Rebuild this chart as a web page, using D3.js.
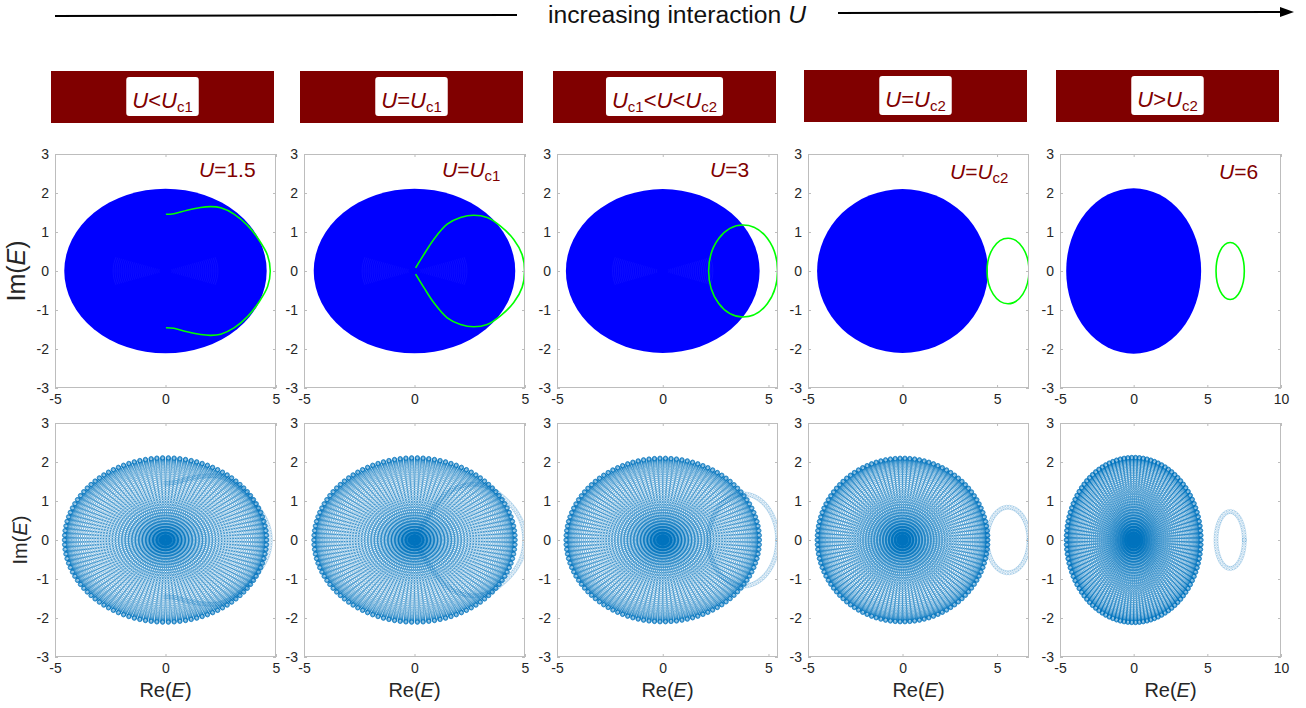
<!DOCTYPE html>
<html><head><meta charset="utf-8">
<script src="https://cdn.jsdelivr.net/npm/d3@7"></script>
<style>
body{margin:0;background:#fff}
svg{display:block;font-family:"Liberation Sans",Arial,Helvetica,sans-serif}
</style>
</head><body>
<svg id="c" width="1306" height="708"></svg>
<script>
// ---------------- data ----------------
const headerLabels = ["U<U_c1", "U=U_c1", "U_c1<U<U_c2", "U=U_c2", "U>U_c2"];
const uLabels = ["U=1.5", "U=U_c1", "U=3", "U=U_c2", "U=6"];
const xMin = [-5, -5, -5, -5, -5];
const xMax = [5, 5, 5.45, 6.69, 10];
const xTickValues = [[-5, 0, 5], [-5, 0, 5], [-5, 0, 5], [-5, 0, 5], [-5, 0, 5, 10]];
const yTickValues = [-3, -2, -1, 0, 1, 2, 3];
// continuum (bulk) spectrum half-extents
const bulkRe = [4.58, 4.56, 4.58, 4.52, 4.58];
const bulkIm = [2.11, 2.11, 2.1, 2.1, 2.12];
// bound-state branch, panel 1 (upper half, lower half mirrored)
const bound1Re = [0.02, 0.38, 0.98, 1.59, 2.05, 2.5, 3.1, 3.71, 4.24, 4.62, 4.74];
const bound1Im = [1.455, 1.47, 1.56, 1.63, 1.65, 1.62, 1.46, 1.17, 0.79, 0.4, 0];
// bound-state branch, panel 2 (upper half, lower half mirrored)
const bound2Re = [0.05, 0.42, 0.87, 1.48, 2.08, 2.68, 3.29, 3.89, 4.49, 4.87, 4.98];
const bound2Im = [0.08, 0.42, 0.81, 1.2, 1.37, 1.43, 1.37, 1.15, 0.81, 0.42, 0];
// bound-state loops, panels 3-5 (centre, half-axes)
const loopCenterRe = [null, null, 3.8, 5.58, 6.55];
const loopHalfRe = [null, null, 1.63, 1.11, 0.96];
const loopHalfIm = [null, null, 1.18, 0.84, 0.73];
// k-grid used for the discrete spectrum (bottom row)
const nSpokes = 110;
const nRings = 44;

// ---------------- layout ----------------
const svg = d3.select("#c");
const panelX = [55, 304, 557, 808, 1060];
const panelW = 221;
const rowTop = [154, 423];
const rowH = 234;
const uLabelX = [199, 442, 710, 950, 1219];
const uLabelY = [177, 177, 177, 179, 179];
const GREEN = "#00ff00", BLUE = "#0000ff", MBLUE = "#0072BD", DARKRED = "#800000";
const AX = "#bdbdbd", TXT = "#262626";
const fmt = d => String(d);

const defs = svg.append("defs");

function rich(textSel, str, subSize, shift) {
  const toks = str.match(/U|_c\d|[^U_]+/g);
  let pendingUp = false;
  toks.forEach(t => {
    const ts = textSel.append("tspan");
    if (pendingUp) { ts.attr("dy", -shift); pendingUp = false; }
    if (t === "U") ts.attr("font-style", "italic").text("U");
    else if (t[0] === "_") {
      ts.attr("font-size", subSize).attr("dy", shift).text(t.slice(1));
      pendingUp = true;
    } else ts.text(t);
  });
}

// --- top arrow + title ---
svg.append("line").attr("x1", 55).attr("y1", 16).attr("x2", 517).attr("y2", 15)
  .attr("stroke", "#000").attr("stroke-width", 2);
svg.append("line").attr("x1", 838).attr("y1", 13).attr("x2", 1282).attr("y2", 12)
  .attr("stroke", "#000").attr("stroke-width", 2);
svg.append("path").attr("d", "M1280,7 L1294,12 L1280,17 Z").attr("fill", "#000");
svg.append("text").attr("x", 548).attr("y", 23)
  .attr("font-family", "'Liberation Sans Narrow','Liberation Sans',Arial,sans-serif")
  .attr("font-size", 23).attr("fill", "#111")
  .attr("textLength", 258).attr("lengthAdjust", "spacingAndGlyphs")
  .call(t => { t.append("tspan").text("increasing interaction "); t.append("tspan").attr("font-style", "italic").text("U"); });

// --- header boxes ---
const headY = [71, 71, 71, 70, 70];
headerLabels.forEach((lab, i) => {
  const bx = panelX[i] - 4, bw = 223;
  svg.append("rect").attr("x", bx).attr("y", headY[i]).attr("width", bw).attr("height", 52).attr("fill", DARKRED);
  const cx = bx + bw / 2;
  const wb = svg.append("rect").attr("fill", "#fff").attr("rx", 3);
  const t = svg.append("text").attr("x", cx).attr("y", headY[i] + 37).attr("text-anchor", "middle")
    .attr("font-size", 22).attr("fill", DARKRED);
  rich(t, lab, 15, 4);
  const bb = t.node().getBBox();
  wb.attr("x", bb.x - 6).attr("y", headY[i] + 6).attr("width", bb.width + 12).attr("height", 39);
});

function drawAxes(g, x, y, xt, left, top, w, h) {
  const st = sel => {
    sel.select(".domain").remove();
    sel.selectAll(".tick line").attr("stroke", AX);
    sel.selectAll(".tick text").attr("fill", TXT).attr("font-size", 14)
      .attr("font-family", "'Liberation Sans',Arial,sans-serif");
  };
  g.append("g").attr("transform", `translate(0,${top + h})`)
    .call(d3.axisBottom(x).tickValues(xt).tickFormat(fmt).tickSizeInner(-3).tickSizeOuter(0).tickPadding(6)).call(st);
  g.append("g").attr("transform", `translate(0,${top})`)
    .call(d3.axisTop(x).tickValues(xt).tickSizeInner(-3).tickSizeOuter(0).tickFormat("")).call(st);
  g.append("g").attr("transform", `translate(${left},0)`)
    .call(d3.axisLeft(y).tickValues(yTickValues).tickFormat(fmt).tickSizeInner(-3).tickSizeOuter(0).tickPadding(6)).call(st);
  g.append("g").attr("transform", `translate(${left + w},0)`)
    .call(d3.axisRight(y).tickValues(yTickValues).tickSizeInner(-3).tickSizeOuter(0).tickFormat("")).call(st);
  g.append("rect").attr("x", left + 0.5).attr("y", top + 0.5).attr("width", w - 1).attr("height", h - 1)
    .attr("fill", "none").attr("stroke", AX);
}

function boundPoints(i) {
  const re = i === 0 ? bound1Re : bound2Re, im = i === 0 ? bound1Im : bound2Im;
  const up = re.map((r, k) => [r, im[k]]);
  const low = up.slice(0, -1).reverse().map(p => [p[0], -p[1]]);
  return up.concat(low);
}

const lineGen = (x, y) => d3.line().x(d => x(d[0])).y(d => y(d[1])).curve(d3.curveCatmullRom.alpha(0.5));

for (let i = 0; i < 5; i++) {
  for (let row = 0; row < 2; row++) {
    const left = panelX[i], top = rowTop[row], w = panelW, h = rowH;
    const x = d3.scaleLinear().domain([xMin[i], xMax[i]]).range([left, left + w]);
    const y = d3.scaleLinear().domain([-3, 3]).range([top + h, top]);
    const g = svg.append("g");
    const cid = `clip${i}_${row}`;
    defs.append("clipPath").attr("id", cid).append("rect").attr("x", left).attr("y", top).attr("width", w).attr("height", h);
    const pg = g.append("g").attr("clip-path", `url(#${cid})`);

    if (row === 0) {
      pg.append("ellipse").attr("cx", x(0)).attr("cy", y(0))
        .attr("rx", x(bulkRe[i]) - x(0)).attr("ry", y(0) - y(bulkIm[i])).attr("fill", BLUE);
      if (i < 3) {
        const tex = pg.append("g").attr("fill", "none").attr("stroke", "#5c5cff").attr("stroke-width", 0.5).attr("opacity", 0.3);
        d3.range(0.3, 2.45, 0.09).forEach(a => {
          [0, Math.PI].forEach(c => {
            const pts = d3.range(-0.33, 0.331, 0.03).map(t => [a * Math.cos(c + t), a * 0.46 * Math.sin(c + t)]);
            tex.append("path").attr("d", d3.line().x(d => x(d[0])).y(d => y(d[1]))(pts));
          });
        });
      }
      if (i < 2) {
        pg.append("path").attr("d", lineGen(x, y)(boundPoints(i))).attr("fill", "none")
          .attr("stroke", GREEN).attr("stroke-width", 1.6);
      } else {
        pg.append("ellipse").attr("cx", x(loopCenterRe[i])).attr("cy", y(0))
          .attr("rx", x(loopCenterRe[i] + loopHalfRe[i]) - x(loopCenterRe[i]))
          .attr("ry", y(0) - y(loopHalfIm[i])).attr("fill", "none")
          .attr("stroke", GREEN).attr("stroke-width", 1.6);
      }
      const t = g.append("text").attr("x", uLabelX[i]).attr("y", uLabelY[i])
        .attr("font-size", 21).attr("fill", DARKRED);
      rich(t, uLabels[i], 15, 4);
    } else {
      const pts = [];
      for (let j = 1; j <= nRings; j++) {
        const r = Math.sin(Math.PI * j / (2 * nRings));
        for (let s = 0; s < nSpokes; s++) {
          const th = 2 * Math.PI * s / nSpokes;
          pts.push([bulkRe[i] * r * Math.cos(th), bulkIm[i] * r * Math.sin(th)]);
        }
      }
      let lp;
      if (i < 2) {
        lp = pg.append("path").attr("d", lineGen(x, y)(boundPoints(i))).attr("fill", "none").attr("stroke", "none");
      } else {
        const c = loopCenterRe[i];
        const rx = x(c + loopHalfRe[i]) - x(c), ry = y(0) - y(loopHalfIm[i]);
        lp = pg.append("path").attr("fill", "none").attr("stroke", "none")
          .attr("d", `M${x(c) + rx},${y(0)} A${rx},${ry} 0 1 1 ${x(c) - rx},${y(0)} A${rx},${ry} 0 1 1 ${x(c) + rx},${y(0)}`);
      }
      const node = lp.node(), L = node.getTotalLength();
      const loopPx = [];
      const n = Math.round(L / 2.6);
      for (let k = 0; k <= n; k++) { const p = node.getPointAtLength(L * k / n); loopPx.push([p.x, p.y]); }

      pg.append("g").selectAll("circle").data(pts).join("circle")
        .attr("cx", d => x(d[0])).attr("cy", d => y(d[1])).attr("r", 2.1)
        .attr("fill", "none").attr("stroke", MBLUE).attr("stroke-width", 0.5).attr("stroke-opacity", 0.7);
      pg.append("g").selectAll("circle").data(loopPx).join("circle")
        .attr("cx", d => d[0]).attr("cy", d => d[1]).attr("r", 2.1)
        .attr("fill", "none").attr("stroke", MBLUE).attr("stroke-width", 0.5).attr("stroke-opacity", 0.45);

      g.append("text").attr("x", left + w / 2).attr("y", 697).attr("text-anchor", "middle")
        .attr("font-size", 20).attr("fill", TXT)
        .call(t => { t.append("tspan").text("Re("); t.append("tspan").attr("font-style", "italic").text("E"); t.append("tspan").text(")"); });
    }
    drawAxes(g, x, y, xTickValues[i], left, top, w, h);
  }
}

[[25, 271, 25], [27, 540, 20]].forEach(([lx, ly, fs]) => {
  svg.append("text").attr("transform", `translate(${lx},${ly}) rotate(-90)`).attr("text-anchor", "middle")
    .attr("font-size", fs).attr("fill", TXT)
    .call(t => { t.append("tspan").text("Im("); t.append("tspan").attr("font-style", "italic").text("E"); t.append("tspan").text(")"); });
});
</script>
</body></html>
